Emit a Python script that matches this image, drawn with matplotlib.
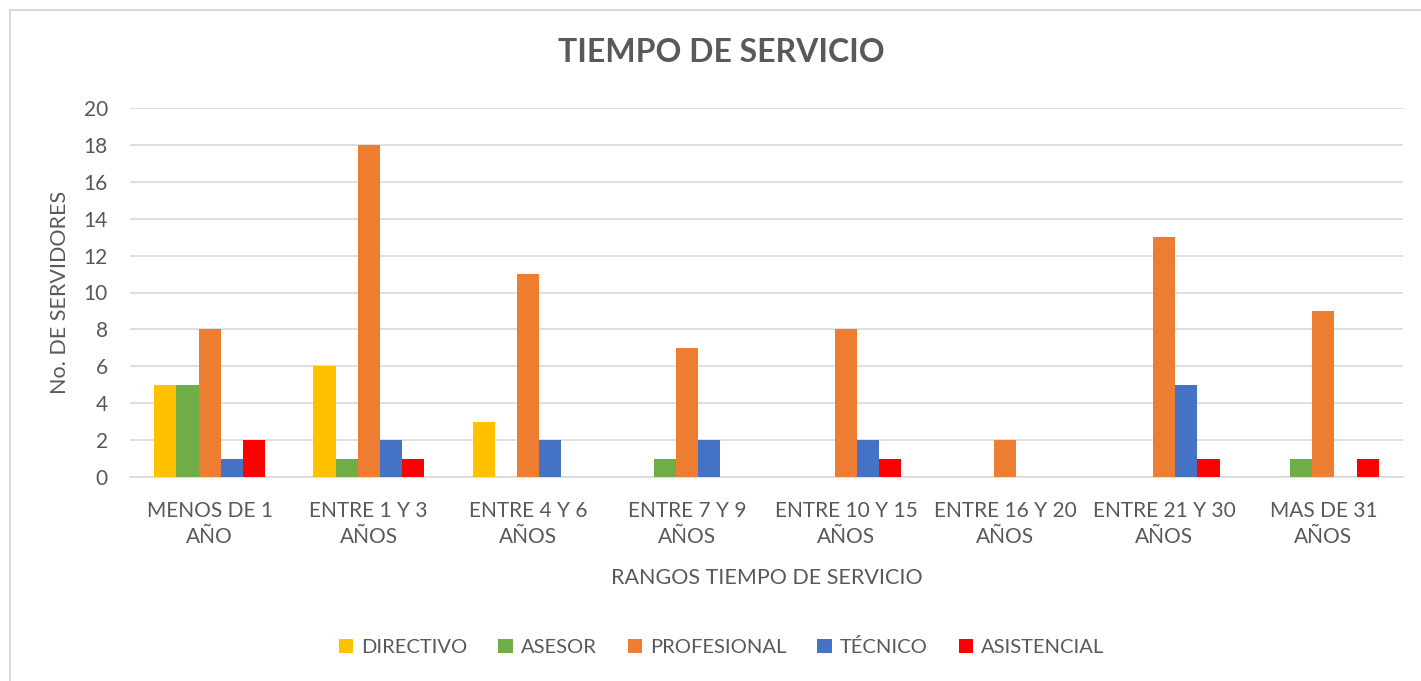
import numpy as np
import matplotlib.pyplot as plt
from matplotlib.patches import Rectangle

plt.rcParams['font.family'] = ['Lato', 'DejaVu Sans']

# categories and series
categories = ['MENOS DE 1\nAÑO', 'ENTRE 1 Y 3\nAÑOS', 'ENTRE 4 Y 6\nAÑOS', 'ENTRE 7 Y 9\nAÑOS',
              'ENTRE 10 Y 15\nAÑOS', 'ENTRE 16 Y 20\nAÑOS', 'ENTRE 21 Y 30\nAÑOS', 'MAS DE 31\nAÑOS']
directivo = [5, 6, 3, 0, 0, 0, 0, 0]
asesor = [5, 1, 0, 1, 0, 0, 0, 1]
profesional = [8, 18, 11, 7, 8, 2, 13, 9]
tecnico = [1, 2, 2, 2, 2, 0, 5, 0]
asistencial = [2, 1, 0, 0, 1, 0, 1, 1]

series = [('DIRECTIVO', directivo, '#FFC000'),
          ('ASESOR', asesor, '#70AD47'),
          ('PROFESIONAL', profesional, '#ED7D31'),
          ('TÉCNICO', tecnico, '#4472C4'),
          ('ASISTENCIAL', asistencial, '#FF0000')]

txt = '#595959'

fig = plt.figure(figsize=(14.21, 6.81), dpi=100)
# outer chart frame (cut off at right/bottom like the screenshot)
fig.patches.append(Rectangle((10 / 1421, -0.1), 1.2, 1 - 10 / 681 + 0.1,
                             transform=fig.transFigure, fill=False,
                             edgecolor='#D9D9D9', linewidth=1.5))

ax = fig.add_axes([130 / 1421, 1 - 477 / 681, (1403 - 130) / 1421, (477 - 108) / 681])

x = np.arange(len(categories))
w = 0.139
for i, (name, vals, col) in enumerate(series):
    ax.bar(x + (i - 2) * w, vals, w, color=col, label=name, zorder=3)

ax.set_xlim(-0.5, len(categories) - 0.5)
ax.set_ylim(0, 20)
ax.set_yticks(range(0, 21, 2))
ax.yaxis.grid(True, color='#D9D9D9', linewidth=1.2, zorder=0)
ax.set_axisbelow(True)
for s in ['top', 'right', 'left']:
    ax.spines[s].set_visible(False)
ax.spines['bottom'].set_color('#D9D9D9')
ax.spines['bottom'].set_linewidth(1.2)
ax.tick_params(axis='both', length=0, labelsize=15, labelcolor=txt)
ax.tick_params(axis='y', pad=16)
ax.tick_params(axis='x', pad=17)
ax.set_xticks(x)
ax.set_xticklabels(categories, linespacing=1.4)

ax.set_ylabel('No. DE SERVIDORES', fontsize=15.5, color=txt, labelpad=10)
ax.set_xlabel('RANGOS TIEMPO DE SERVICIO', fontsize=15.5, color=txt, labelpad=15)

fig.text(0.5077, 1 - 53 / 681, 'TIEMPO DE SERVICIO', ha='center', va='center',
         fontsize=23, fontweight='bold', color=txt)

fig.legend(loc='center', bbox_to_anchor=(0.5077, 1 - 647 / 681), ncol=5, frameon=False,
           fontsize=14.5, labelcolor=txt, handlelength=0.7, handleheight=0.7,
           handletextpad=0.4, columnspacing=1.55)

fig.savefig('out.png', dpi=100)
